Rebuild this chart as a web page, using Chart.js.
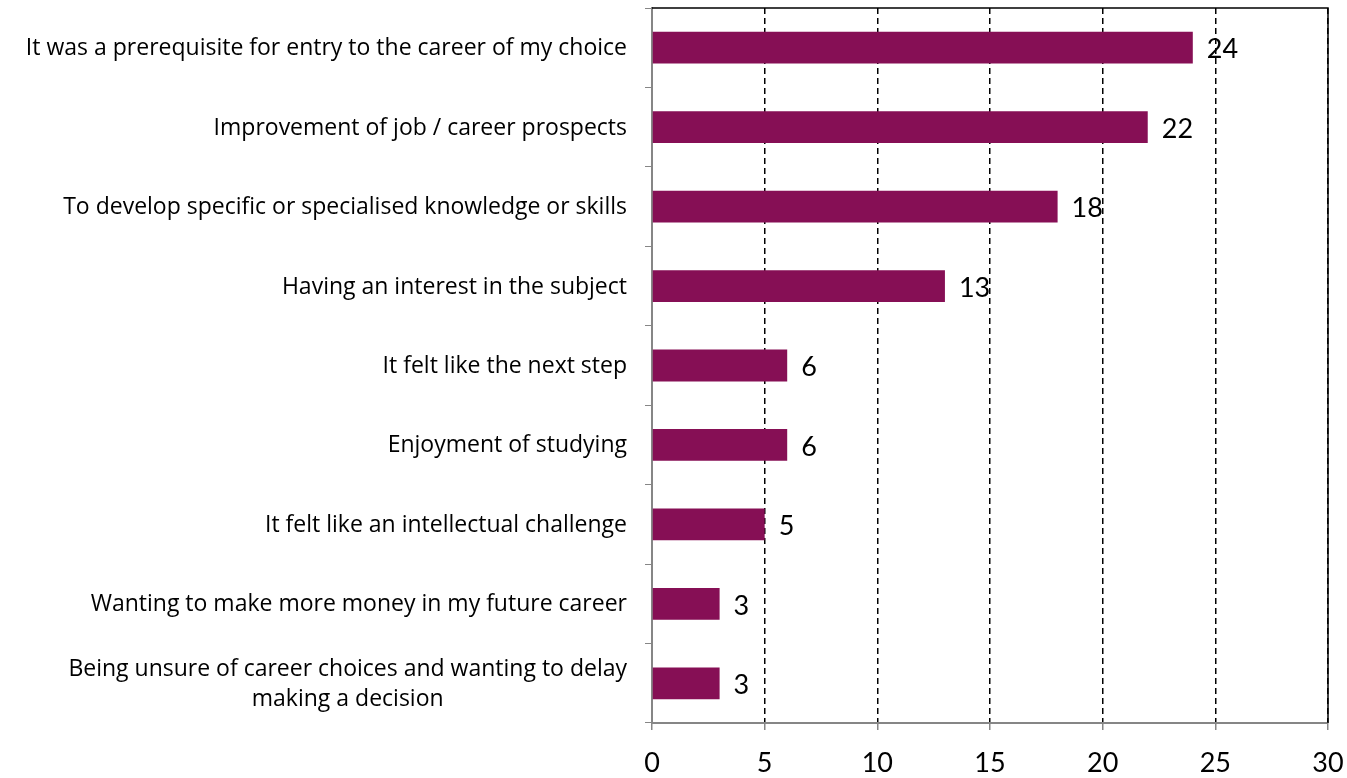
<!DOCTYPE html>
<html>
<head>
<meta charset="utf-8">
<script src="https://cdn.jsdelivr.net/npm/chart.js@4"></script>
<style>
  html, body { margin: 0; padding: 0; background: #fff; }
  #wrap { width: 1347px; height: 778px; }
</style>
</head>
<body>
<div id="wrap"><canvas id="chart"></canvas></div>
<script>
var reasons = [
    'It was a prerequisite for entry to the career of my choice',
    'Improvement of job / career prospects',
    'To develop specific or specialised knowledge or skills',
    'Having an interest in the subject',
    'It felt like the next step',
    'Enjoyment of studying',
    'It felt like an intellectual challenge',
    'Wanting to make more money in my future career',
    ['Being unsure of career choices and wanting to delay', 'making a decision']
];
var counts = [24, 22, 18, 13, 6, 6, 5, 3, 3];
var xTicks = [0, 5, 10, 15, 20, 25, 30];

var barColor = '#860F55';
var axisGrey = '#868686';
var labelFont = '23px "Open Sans"';
var numberFont = '27px Lato';

// value labels to the right of each bar
var valueLabels = {
    id: 'valueLabels',
    afterDatasetsDraw: function(chart){
        var ctx = chart.ctx;
        var meta = chart.getDatasetMeta(0);
        ctx.save();
        ctx.font = numberFont;
        ctx.fillStyle = '#000';
        ctx.textAlign = 'left';
        ctx.textBaseline = 'middle';
        meta.data.forEach(function(bar, i){
            ctx.fillText(counts[i], bar.x + 14, bar.y + 2);
        });
        ctx.restore();
    }
};

// category labels: right-aligned block, lines centred inside it
var categoryLabels = {
    id: 'categoryLabels',
    afterDraw: function(chart){
        var ctx = chart.ctx;
        var y = chart.scales.y;
        var right = chart.chartArea.left - 25;
        var lineH = 30;
        ctx.save();
        ctx.font = labelFont;
        ctx.fillStyle = '#000';
        ctx.textAlign = 'center';
        ctx.textBaseline = 'middle';
        reasons.forEach(function(label, i){
            var lines = Array.isArray(label) ? label : [label];
            var w = 0;
            lines.forEach(function(l){ w = Math.max(w, ctx.measureText(l).width); });
            var cx = right - w / 2;
            var cy = y.getPixelForTick(i) - (lines.length - 1) * lineH / 2 + 1;
            lines.forEach(function(l, k){
                ctx.fillText(l, cx, cy + k * lineH);
            });
        });
        ctx.restore();
    }
};

// black frame on top and right of the plot area
var frame = {
    id: 'frame',
    afterDraw: function(chart){
        var a = chart.chartArea;
        var ctx = chart.ctx;
        ctx.save();
        ctx.strokeStyle = '#000';
        ctx.lineWidth = 1.5;
        ctx.beginPath();
        ctx.moveTo(a.left, a.top);
        ctx.lineTo(a.right, a.top);
        ctx.lineTo(a.right, a.bottom);
        ctx.stroke();
        ctx.restore();
    }
};

var ctx = document.getElementById('chart').getContext('2d');
var myChart = new Chart(ctx, {
    type: 'bar',
    data: {
        labels: reasons,
        datasets: [{
            data: counts,
            backgroundColor: barColor,
            borderWidth: 0,
            categoryPercentage: 1,
            barPercentage: 0.4
        }]
    },
    options: {
        indexAxis: 'y',
        responsive: true,
        maintainAspectRatio: false,
        animation: false,
        layout: { padding: { top: 8, right: 19, left: 0, bottom: 0 } },
        plugins: {
            legend: { display: false },
            tooltip: { enabled: false }
        },
        scales: {
            x: {
                min: 0,
                max: 30,
                afterBuildTicks: function(scale){
                    scale.ticks = xTicks.map(function(v){ return { value: v }; });
                },
                afterFit: function(scale){
                    scale.height = 55;
                    scale.paddingLeft = 0;
                    scale.paddingRight = 0;
                },
                border: { color: axisGrey, width: 2, dash: [6, 4] },
                grid: {
                    color: function(c){
                        return (c.tick && c.tick.value === 0) ? 'rgba(0,0,0,0)' : '#000';
                    },
                    lineWidth: 1.5,
                    tickColor: axisGrey,
                    tickLength: 7,
                    tickBorderDash: []
                },
                ticks: {
                    color: '#000',
                    font: { family: 'Lato', size: 27 },
                    padding: 17,
                    maxRotation: 0
                }
            },
            y: {
                afterFit: function(scale){
                    scale.width = 652;
                    scale.paddingTop = 0;
                    scale.paddingBottom = 0;
                },
                border: { color: axisGrey, width: 2 },
                grid: {
                    offset: true,
                    drawOnChartArea: false,
                    color: axisGrey,
                    tickLength: 7
                },
                ticks: {
                    color: 'rgba(0,0,0,0)',
                    font: { family: 'Open Sans', size: 23 },
                    padding: 18,
                    autoSkip: false
                }
            }
        }
    },
    plugins: [valueLabels, categoryLabels, frame]
});
</script>
</body>
</html>
